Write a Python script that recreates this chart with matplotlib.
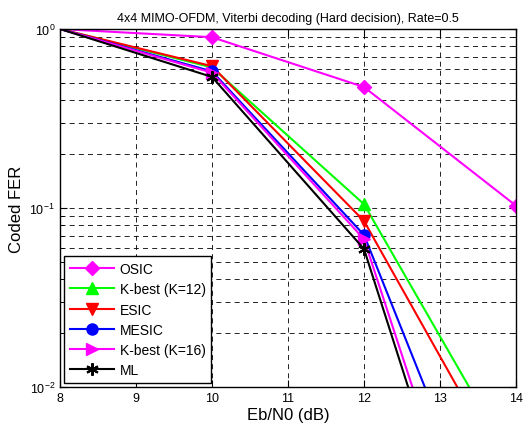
import numpy as np
import matplotlib
matplotlib.use('Agg')
import matplotlib.pyplot as plt
from matplotlib.ticker import LogLocator, NullFormatter

plt.rcParams['font.family'] = ['Liberation Sans', 'DejaVu Sans']

ebn0 = [8, 10, 12, 14]
osic = [1.0, 0.90, 0.474, 0.103]
kbest12 = [1.0, 0.61, 0.105, 3.5e-3]
esic = [1.0, 0.62, 0.0846, 2.6e-3]
mesic = [1.0, 0.58, 0.0707, 5.3e-4]
kbest16 = [1.0, 0.57, 0.067, 1.7e-4]
ml = [1.0, 0.54, 0.059, 1.3e-4]

fig = plt.figure(figsize=(5.23, 4.35), dpi=100)
ax = fig.add_axes([0.1147, 0.108, 0.872, 0.823])

mk = [1, 2, 3]
ax.semilogy(ebn0, osic, color='#ff00ff', marker='D', ms=7, lw=1.5, markevery=mk, label='OSIC')
ax.semilogy(ebn0, kbest12, color='#00ff00', marker='^', ms=8, lw=1.5, markevery=mk, label='K-best (K=12)')
ax.semilogy(ebn0, esic, color='#ff0000', marker='v', ms=8, lw=1.5, markevery=mk, label='ESIC')
ax.semilogy(ebn0, mesic, color='#0000ff', marker='o', ms=8, lw=1.5, markevery=mk, label='MESIC')
ax.semilogy(ebn0, kbest16, color='#ff00ff', marker='>', ms=8, lw=1.5, markevery=mk, label='K-best (K=16)')
ax.semilogy(ebn0, ml, color='black', marker=(6, 2, 0), ms=9, mew=1.5, lw=1.5, markevery=mk, label='ML')

ax.set_xlim(8, 14)
ax.set_ylim(1e-2, 1)
ax.set_xticks(range(8, 15))
ax.yaxis.set_minor_locator(LogLocator(base=10, subs=np.arange(2, 10)))
ax.yaxis.set_minor_formatter(NullFormatter())
ax.grid(True, which='major', color='black', linestyle=(0, (6, 5)), lw=0.6)
ax.grid(True, which='minor', axis='y', color='black', linestyle=(0, (6, 5)), lw=0.6)
ax.tick_params(which='both', direction='in', top=True, right=True, labelsize=9)
ax.tick_params(which='major', length=5)
ax.tick_params(which='minor', length=3)
for s in ax.spines.values():
    s.set_linewidth(1.0)

ax.set_xlabel('Eb/N0 (dB)', fontsize=12, labelpad=2)
ax.set_ylabel('Coded FER', fontsize=12)
ax.set_title('4x4 MIMO-OFDM, Viterbi decoding (Hard decision), Rate=0.5', fontsize=9, pad=6)

leg = ax.legend(loc='lower left', bbox_to_anchor=(0.0, 0.0), fancybox=False, framealpha=1,
                edgecolor='black', fontsize=10, handlelength=3.2, borderaxespad=0.3,
                labelspacing=0.45, borderpad=0.4, handletextpad=0.4)
leg.get_frame().set_linewidth(1.0)

fig.savefig('out.png', dpi=100)
